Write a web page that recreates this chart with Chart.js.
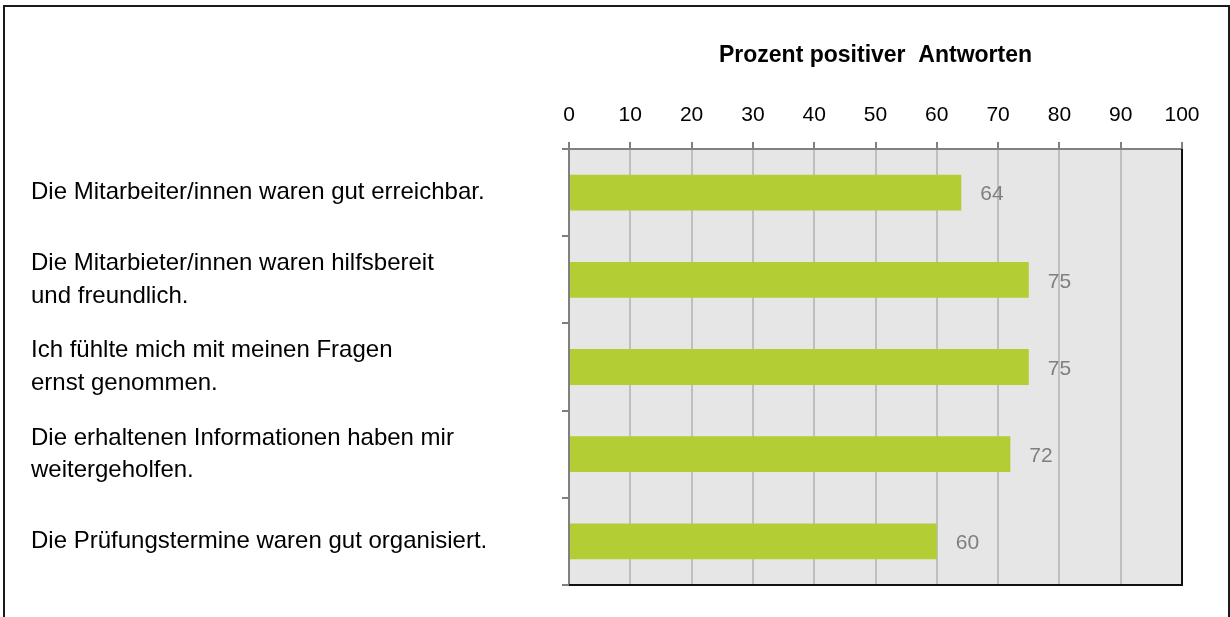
<!DOCTYPE html>
<html>
<head>
<meta charset="utf-8">
<script src="https://cdn.jsdelivr.net/npm/chart.js@4/dist/chart.umd.min.js"></script>
<style>
  html, body { margin: 0; padding: 0; background: #fff; }
  canvas { display: block; }
</style>
</head>
<body>
<canvas id="c" width="1230" height="617"></canvas>
<script>
const categories = [
  "Die Mitarbeiter/innen waren gut erreichbar.",
  ["Die Mitarbieter/innen waren hilfsbereit", "und freundlich."],
  ["Ich fühlte mich mit meinen Fragen", "ernst genommen."],
  ["Die erhaltenen Informationen haben mir", "weitergeholfen."],
  "Die Prüfungstermine waren gut organisiert."
];
const values = [64, 75, 75, 72, 60];
const axisTitle = "Prozent positiver  Antworten";
const axisMin = 0;
const axisMax = 100;
const axisStep = 10;

const FONT = "'Liberation Sans', Arial, sans-serif";

const plotBg = {
  id: 'plotBg',
  beforeDraw(chart) {
    const { ctx, chartArea: a } = chart;
    ctx.save();
    ctx.fillStyle = '#e6e6e6';
    ctx.fillRect(a.left, a.top, a.right - a.left, a.bottom - a.top);
    ctx.restore();
  }
};

const valueLabels = {
  id: 'valueLabels',
  afterDatasetsDraw(chart) {
    const { ctx } = chart;
    const meta = chart.getDatasetMeta(0);
    ctx.save();
    ctx.font = '21px ' + FONT;
    ctx.fillStyle = '#7f7f7f';
    ctx.textAlign = 'left';
    ctx.textBaseline = 'middle';
    meta.data.forEach((bar, i) => {
      ctx.fillText(String(chart.data.datasets[0].data[i]), bar.x + 19, bar.y + 2);
    });
    ctx.restore();
  }
};

const frames = {
  id: 'frames',
  afterDraw(chart) {
    const { ctx, chartArea: a } = chart;
    ctx.save();
    ctx.strokeStyle = '#111';
    ctx.lineWidth = 2;
    ctx.beginPath();
    ctx.moveTo(a.right, a.top);
    ctx.lineTo(a.right, a.bottom);
    ctx.lineTo(a.left, a.bottom);
    ctx.stroke();
    ctx.strokeStyle = '#1a1a1a';
    ctx.lineWidth = 2;
    ctx.strokeRect(4, 6, 1225, 700);
    ctx.restore();
  }
};

new Chart(document.getElementById('c'), {
  type: 'bar',
  data: {
    labels: categories,
    datasets: [{
      data: values,
      backgroundColor: '#b3cd34',
      borderWidth: 0,
      categoryPercentage: 1,
      barPercentage: 0.41
    }]
  },
  options: {
    indexAxis: 'y',
    responsive: false,
    animation: false,
    devicePixelRatio: 1,
    layout: { padding: { left: 31, right: 48, top: 0, bottom: 32 } },
    plugins: {
      legend: { display: false },
      tooltip: { enabled: false }
    },
    scales: {
      x: {
        position: 'top',
        min: axisMin,
        max: axisMax,
        ticks: {
          stepSize: axisStep,
          color: '#000',
          font: { family: FONT, size: 21 },
          padding: 14
        },
        grid: {
          color: '#bfbfbf',
          lineWidth: 2,
          tickLength: 7,
          tickColor: '#808080',
          tickWidth: 2
        },
        border: { color: '#808080', width: 2 },
        title: {
          display: true,
          text: axisTitle,
          color: '#000',
          font: { family: FONT, size: 23, weight: 'bold' },
          padding: { top: 42, bottom: 0 }
        },
        afterFit(scale) { scale.height = 149; }
      },
      y: {
        ticks: {
          crossAlign: 'far',
          color: '#000',
          font: { family: FONT, size: 24, lineHeight: 1.36 },
          padding: 10
        },
        grid: {
          drawOnChartArea: false,
          color: '#808080',
          lineWidth: 2,
          tickLength: 7,
          offset: true
        },
        border: { color: '#808080', width: 2 },
        afterFit(scale) { scale.width = 538; }
      }
    }
  },
  plugins: [plotBg, valueLabels, frames]
});
</script>
</body>
</html>
